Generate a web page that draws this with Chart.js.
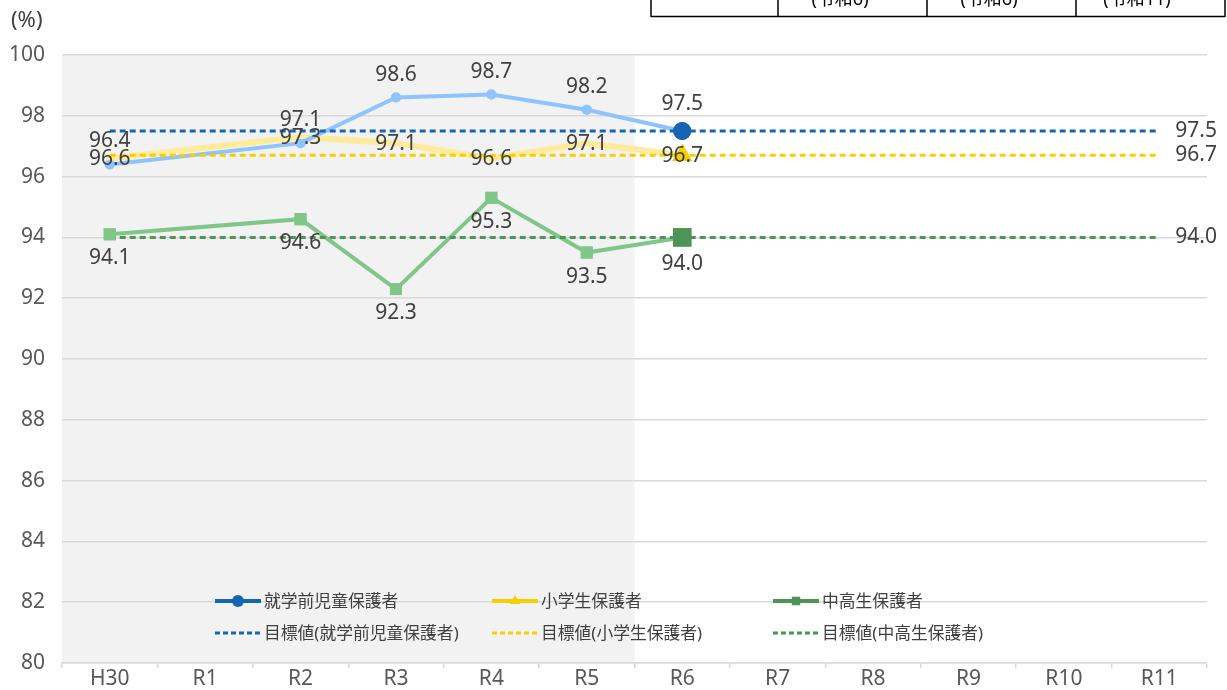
<!DOCTYPE html>
<html>
<head>
<meta charset="utf-8">
<script src="https://cdn.jsdelivr.net/npm/chart.js@4.4.0/dist/chart.umd.min.js"></script>
<style>
html, body { margin: 0; padding: 0; background: #fff; }
#caja { width: 1227px; height: 690px; position: relative; }
</style>
</head>
<body>
<div id="caja"><canvas id="grafico" width="1227" height="690"></canvas></div>
<script>
// datos
const anios = ['H30', 'R1', 'R2', 'R3', 'R4', 'R5', 'R6', 'R7', 'R8', 'R9', 'R10', 'R11'];
const shugakumae = [96.4, null, 97.1, 98.6, 98.7, 98.2, 97.5, null, null, null, null, null];
const shogakusei = [96.6, null, 97.3, 97.1, 96.6, 97.1, 96.7, null, null, null, null, null];
const chukosei = [94.1, null, 94.6, 92.3, 95.3, 93.5, 94.0, null, null, null, null, null];
const metaShugakumae = [97.5, 97.5, 97.5, 97.5, 97.5, 97.5, 97.5, 97.5, 97.5, 97.5, 97.5, 97.5];
const metaShogakusei = [96.7, 96.7, 96.7, 96.7, 96.7, 96.7, 96.7, 96.7, 96.7, 96.7, 96.7, 96.7];
const metaChukosei = [94.0, 94.0, 94.0, 94.0, 94.0, 94.0, 94.0, 94.0, 94.0, 94.0, 94.0, 94.0];
const nombres = ['就学前児童保護者', '小学生保護者', '中高生保護者'];
const nombresMeta = ['目標値(就学前児童保護者)', '目標値(小学生保護者)', '目標値(中高生保護者)'];
const celdasTabla = ['(令和6)', '(令和6)', '(令和11)'];

const fuente = '"Noto Sans", "Noto Sans CJK JP", sans-serif';
const gris = '#404040';
const ultimo = 6;

const azulClaro = '#8fc3fd', azul = '#1565b4';
const amarilloClaro = '#ffeb99', amarillo = '#f5cf00';
const verdeClaro = '#80c689', verde = '#4e9457';

// tamaño de marcador: el último año va más grande
const radios = (chico, grande) => anios.map((a, i) => i === ultimo ? grande : chico);
const colores = (claro, oscuro) => anios.map((a, i) => i === ultimo ? oscuro : claro);

const serie = (label, data, claro, oscuro, estilo, ancho, chico, grande) => ({
    label, data,
    borderColor: claro,
    borderWidth: ancho,
    pointStyle: estilo,
    pointRadius: radios(chico, grande),
    pointBackgroundColor: colores(claro, oscuro),
    pointBorderWidth: 0,
    spanGaps: true,
    order: 1,
    esSerie: true
});
const meta = (label, data, color) => ({
    label, data,
    borderColor: color,
    borderWidth: 3,
    borderDash: [6, 4],
    pointRadius: 0,
    order: 0
});

const fondoGris = {
    id: 'fondoGris',
    beforeDraw(chart) {
        const {ctx, chartArea, scales} = chart;
        const fin = (scales.x.getPixelForValue(5) + scales.x.getPixelForValue(6)) / 2;
        ctx.save();
        ctx.fillStyle = '#f2f2f2';
        ctx.fillRect(chartArea.left, chartArea.top, fin - chartArea.left, chartArea.bottom - chartArea.top);
        ctx.restore();
    }
};

const etiquetas = {
    id: 'etiquetas',
    afterDatasetsDraw(chart) {
        const {ctx, chartArea, scales} = chart;
        // marcadores encima de las líneas de meta
        chart.data.datasets.forEach((ds, i) => {
            if (!ds.esSerie) return;
            chart.getDatasetMeta(i).data.forEach(p => { if (!p.skip) p.draw(ctx, chartArea); });
        });
        ctx.save();
        ctx.font = '21px ' + fuente;
        ctx.fillStyle = gris;
        ctx.textAlign = 'center';
        ctx.textBaseline = 'middle';
        const desplaz = [r => -(r + 18), r => 1, r => r * 0.7 + 18];
        [0, 1, 2].forEach(k => {
            const ds = chart.data.datasets[k];
            chart.getDatasetMeta(k).data.forEach((p, i) => {
                if (ds.data[i] == null) return;
                ctx.fillText(ds.data[i].toFixed(1), p.x, p.y + desplaz[k](ds.pointRadius[i]));
            });
        });
        ctx.textAlign = 'left';
        const xFin = scales.x.getPixelForValue(11) + 16;
        [3, 4, 5].forEach(k => {
            const v = chart.data.datasets[k].data[11];
            ctx.fillText(v.toFixed(1), xFin, scales.y.getPixelForValue(v));
        });
        ctx.restore();
    },
    afterDraw(chart) {
        const {ctx} = chart;
        ctx.save();
        // leyenda dentro del gráfico
        const cols = [215, 492, 773];
        const oscuros = [azul, amarillo, verde];
        const estilos = ['circle', 'triangle', 'rect'];
        ctx.font = '16.8px ' + fuente;
        ctx.textBaseline = 'middle';
        cols.forEach((x, k) => {
            ctx.strokeStyle = oscuros[k];
            ctx.lineWidth = 4;
            ctx.setLineDash([]);
            ctx.beginPath(); ctx.moveTo(x, 601); ctx.lineTo(x + 46, 601); ctx.stroke();
            ctx.fillStyle = oscuros[k];
            Chart.helpers.drawPoint(ctx, {pointStyle: estilos[k], radius: 6, borderWidth: 0}, x + 23, 601);
            ctx.fillStyle = gris;
            ctx.fillText(nombres[k], x + 49, 602);
            ctx.lineWidth = 3;
            ctx.setLineDash([5, 3]);
            ctx.beginPath(); ctx.moveTo(x, 633); ctx.lineTo(x + 46, 633); ctx.stroke();
            ctx.fillText(nombresMeta[k], x + 49, 634);
        });
        ctx.setLineDash([]);
        // unidad
        ctx.font = '22px ' + fuente;
        ctx.fillStyle = gris;
        ctx.textAlign = 'left';
        ctx.fillText('(%)', 11, 21);
        // tabla cortada arriba
        ctx.strokeStyle = '#000';
        ctx.lineWidth = 1.5;
        ctx.beginPath();
        ctx.moveTo(651, 16.5); ctx.lineTo(1225, 16.5);
        [651, 778, 927, 1076, 1225].forEach(x => { ctx.moveTo(x, 0); ctx.lineTo(x, 17); });
        ctx.stroke();
        ctx.font = '18px ' + fuente;
        ctx.fillStyle = '#000';
        ctx.textAlign = 'center';
        ctx.textBaseline = 'alphabetic';
        [840, 989, 1137].forEach((x, i) => ctx.fillText(celdasTabla[i], x, 5));
        ctx.restore();
    }
};

const ctx = document.getElementById('grafico');
new Chart(ctx, {
    type: 'line',
    data: {
        labels: anios,
        datasets: [
            serie(nombres[0], shugakumae, azulClaro, azul, 'circle', 4, 5, 9),
            serie(nombres[1], shogakusei, amarilloClaro, amarillo, 'triangle', 6, 4, 11.5),
            serie(nombres[2], chukosei, verdeClaro, verde, 'rect', 4, 8.5, 13),
            meta(nombresMeta[0], metaShugakumae, azul),
            meta(nombresMeta[1], metaShogakusei, amarillo),
            meta(nombresMeta[2], metaChukosei, verde)
        ]
    },
    options: {
        responsive: false,
        animation: false,
        layout: { padding: { top: 55, right: 20, left: 0, bottom: 0 } },
        plugins: { legend: { display: false }, tooltip: { enabled: false } },
        scales: {
            x: {
                offset: true,
                afterFit: s => { s.height = 27; },
                grid: { offset: true, drawOnChartArea: false, tickLength: 5, color: '#d9d9d9', lineWidth: 1.5 },
                border: { color: '#d9d9d9', width: 1.5 },
                ticks: { color: '#595959', font: { family: fuente, size: 21 }, padding: -2, maxRotation: 0 }
            },
            y: {
                min: 80, max: 100,
                afterFit: s => { s.width = 62; s.paddingTop = 0; s.paddingBottom = 0; },
                grid: { drawTicks: false, color: '#d9d9d9', lineWidth: 1.5 },
                border: { display: false },
                ticks: { stepSize: 2, padding: 17, color: '#595959', font: { family: fuente, size: 21 } }
            }
        }
    },
    plugins: [fondoGris, etiquetas]
});
</script>
</body>
</html>
